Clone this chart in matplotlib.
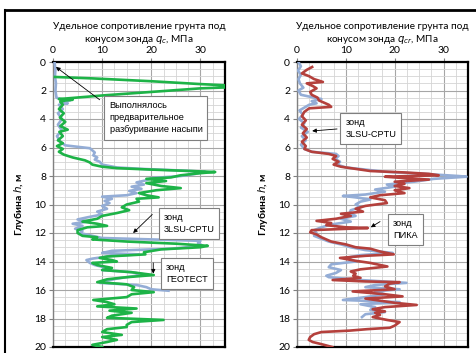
import matplotlib
matplotlib.use("Agg")
import matplotlib.pyplot as plt
from matplotlib.lines import Line2D
import numpy as np

# --- ГЕОТЕСТ (left panel)
geotest_depth = [1.05, 1.15, 1.35, 1.55, 1.72, 1.85, 2.1, 2.35, 2.55, 2.6, 2.65, 2.7, 2.8, 3.0, 3.3, 3.6, 3.9,
                 4.2, 4.5, 4.75, 4.9, 5.2, 5.5, 5.7, 5.9, 6.1, 6.3, 6.5, 6.7, 6.9, 7.05, 7.2, 7.35, 7.45, 7.55,
                 7.65, 7.72, 7.8, 7.95, 8.1, 8.2, 8.35, 8.5, 8.7, 8.85, 9.0, 9.2, 9.35, 9.5, 9.6, 9.8, 10.0,
                 10.2, 10.4, 10.6, 10.8, 11.0, 11.2, 11.35, 11.5, 11.6, 11.8, 12.0, 12.2, 12.3, 12.45, 12.6,
                 12.75, 12.9, 13.0, 13.15, 13.35, 13.5, 13.65, 13.75, 13.9, 14.0, 14.1, 14.25, 14.45, 14.6,
                 14.75, 14.95, 15.1, 15.25, 15.45, 15.6, 15.8, 16.0, 16.15, 16.3, 16.5, 16.7, 16.85, 17.0,
                 17.15, 17.3, 17.45, 17.6, 17.8, 17.95, 18.1, 18.25, 18.45, 18.6, 18.75, 18.95, 19.15, 19.3,
                 19.5, 19.65, 19.85, 20.0]
geotest_qc = [0.4, 8, 20, 30, 40, 30, 20, 10, 3, 1.2, 4, 2.5, 1.5, 2.0, 1.2, 2.2, 1.4,
              2.5, 1.5, 3.0, 1.3, 2.0, 1.0, 2.0, 0.8, 2.0, 1.2, 2.2, 4, 6.5, 7.5, 8, 10, 13, 20,
              28, 33, 30, 26, 24, 19, 23, 19, 22, 26, 21, 17.5, 19, 21.5, 17, 17.5, 15,
              14, 15.5, 13, 10, 9, 6, 9, 11, 7, 5, 5, 6, 9, 8, 15,
              25, 31.5, 30, 22, 18.5, 18.8, 11, 9.5, 12, 13, 8, 9, 12, 10,
              16, 20.5, 15, 11, 9, 15, 16.5, 16, 20.5, 16, 15, 8.2, 11, 12.5,
              9, 17, 11.5, 16, 12, 11, 22.5, 16, 15, 15, 11, 10, 14, 10,
              13, 11, 8, 10]

# --- 3LSU-CPTU (left panel)
cptu_l_depth = [0.0, 0.5, 1.0, 1.5, 2.0, 2.5, 2.6, 2.7, 2.8, 2.9, 3.0, 3.3, 3.6, 4.0, 4.4, 4.8, 5.2, 5.6,
                5.85, 5.95, 6.05, 6.2, 6.35, 6.55, 6.7, 6.85, 7.0, 7.2, 7.4, 7.5, 7.6, 7.7, 7.85, 8.0,
                8.15, 8.3, 8.45, 8.6, 8.75, 8.9, 9.05, 9.2, 9.35, 9.45, 9.6, 9.75, 9.9, 10.1, 10.3,
                10.5, 10.7, 10.9, 11.05, 11.2, 11.35, 11.5, 11.7, 11.85, 12.0, 12.2, 12.35, 12.45,
                12.55, 12.7, 12.9, 13.1, 13.25, 13.4, 13.5, 13.6, 13.8, 13.9, 14.1, 14.25, 14.45,
                14.6, 14.75, 14.9, 15.05, 15.2, 15.35, 15.5, 15.65, 15.8, 15.95, 16.05]
cptu_l_qc = [0.3, 0.5, 0.4, 0.6, 0.5, 0.7, 1.5, 3.5, 1.5, 3.0, 1.2, 2.0, 1.0, 1.8, 1.0, 1.8, 0.8, 1.5,
             2.5, 5, 7.5, 8.0, 8.5, 8.2, 9.0, 8.5, 9.5, 10, 13, 18, 25, 31, 29, 26,
             20, 19, 17, 18.5, 16, 18, 15.5, 17, 15, 10, 12, 10.5, 11.5, 10, 11,
             9, 10, 7, 5, 7, 4, 6, 4.5, 6, 5.5, 8, 10, 20,
             30, 29.5, 30.5, 24, 12, 10, 17.5, 12, 8, 6.8, 7.5, 8.5, 11,
             10, 16, 18.5, 16, 13, 11, 9.5, 17, 19, 20, 23.5]

# --- ПИКА (right panel)
pika_depth = [0.35, 0.55, 0.8, 1.0, 1.2, 1.4, 1.5, 1.7, 1.85, 2.1, 2.3, 2.5, 2.7, 2.85, 3.0, 3.15, 3.25,
              3.5, 3.8, 4.1, 4.4, 4.7, 5.0, 5.3, 5.6, 5.9, 6.1, 6.3, 6.45, 6.6, 6.8, 7.0, 7.2, 7.35,
              7.5, 7.65, 7.75, 7.85, 7.95, 8.05, 8.15, 8.25, 8.4, 8.55, 8.7, 8.85, 9.0, 9.2, 9.35,
              9.5, 9.7, 9.9, 10.1, 10.3, 10.5, 10.65, 10.8, 11.0, 11.15, 11.3, 11.45, 11.6, 11.65,
              11.8, 11.95, 12.1, 12.3, 12.45, 12.6, 12.8, 13.0, 13.1, 13.3, 13.5, 13.6, 13.75,
              13.95, 14.1, 14.35, 14.55, 14.7, 14.85, 15.0, 15.15, 15.3, 15.4, 15.45, 15.55, 15.75,
              15.95, 16.1, 16.3, 16.45, 16.6, 16.75, 16.9, 17.05, 17.2, 17.35, 17.5, 17.6, 17.75,
              17.9, 18.1, 18.25, 18.5, 18.65, 18.75, 18.85, 18.95, 19.1, 19.3, 19.5, 19.65, 19.8, 20.0]
pika_qc = [3.1, 2, 1.0, 2.5, 3.5, 5.3, 2.0, 3.3, 4.0, 2.7, 3.0, 4.2, 4.5, 5.5, 6.5, 7.0, 2.5,
           1.5, 1.0, 1.8, 1.0, 2.0, 1.2, 2.0, 1.0, 1.8, 1.5, 3.0, 6.5, 8, 7.3, 8.5, 7.5, 9,
           12, 15, 22, 27, 29, 18, 22, 27, 20, 22, 20, 23, 20, 22, 17,
           15, 18, 18.4, 14, 12, 13.5, 9, 11, 8, 4, 7, 6, 10, 14.5,
           3, 2.7, 4, 5, 6, 7, 10, 12, 15, 17, 19.8, 14, 8.8,
           12, 15, 18.5, 13, 11, 12, 11.5, 13, 7.3, 14, 21, 19, 18,
           20, 11.4, 18, 21.6, 14, 17, 20, 24.5, 18, 15.5, 18, 16, 17,
           15.5, 18.4, 21, 20, 19, 14.3, 10.8, 5, 3.5, 2.7, 2.4, 3.2, 5, 7.2]

# --- 3LSU-CPTU (right panel)
cptu_r_depth = [0.0, 0.3, 0.6, 0.9, 1.2, 1.5, 1.8, 2.0, 2.3, 2.5, 2.6, 2.75, 2.9, 3.0, 3.2, 3.4, 3.7,
                4.0, 4.3, 4.6, 4.9, 5.2, 5.5, 5.8, 6.1, 6.3, 6.45, 6.6, 6.8, 7.0, 7.2, 7.4, 7.55, 7.7,
                7.85, 8.0, 8.05, 8.2, 8.4, 8.6, 8.75, 8.95, 9.1, 9.3, 9.4, 9.5, 9.65, 9.8, 10.0, 10.2,
                10.4, 10.6, 10.8, 11.0, 11.2, 11.4, 11.6, 11.8, 12.0, 12.2, 12.4, 12.6, 12.8, 13.0,
                13.2, 13.4, 13.55, 13.75, 14.0, 14.2, 14.4, 14.6, 14.8, 15.0, 15.1, 15.3, 15.5, 15.65,
                15.8, 15.95, 16.1, 16.3, 16.5, 16.7, 16.85, 17.0, 17.2, 17.4, 17.55, 17.7, 17.9]
cptu_r_qc = [0.3, 0.8, 0.2, 0.8, 0.3, 0.6, 1.3, 0.3, 0.8, 3.5, 5.0, 3.0, 4.0, 2.5, 1.5, 0.5, 1.2,
             0.4, 1.5, 0.8, 2.2, 1.0, 1.8, 0.8, 1.5, 3, 8, 8.5, 7.8, 8.8, 8.2, 10, 14, 18,
             26, 33, 34.7, 28, 24, 18.4, 20, 16, 18, 14, 9.4, 12, 15, 13, 12, 13,
             11, 10.8, 12, 9, 11, 7, 5, 3.5, 4, 3.5, 5, 6.5, 9, 11,
             14, 19.6, 13, 10, 12, 7, 6.5, 9, 8, 6, 6.5, 13, 22.4, 16,
             14, 21, 16, 18, 14, 9.4, 21, 13, 16, 15, 18, 14, 13.3]

x_ticks = [0, 10, 20, 30]
y_ticks = [0, 2, 4, 6, 8, 10, 12, 14, 16, 18, 20]

GREEN = "#1DB347"
BLUE = "#94ADD6"
RED = "#B4403C"

W, H = 477, 353
fig = plt.figure(figsize=(W / 100, H / 100), dpi=100)

title_font = ["Lato", "DejaVu Sans"]
box_font = ["Liberation Sans Narrow", "Liberation Sans", "DejaVu Sans"]


def make_axes(left_px, right_px, title_sub):
    ax = fig.add_axes([left_px / W, 1 - 347 / H, (right_px - left_px) / W, (347 - 62) / H])
    ax.set_xlim(0, 35)
    ax.set_ylim(20, 0)
    ax.xaxis.tick_top()
    ax.set_xticks(x_ticks)
    ax.set_yticks(y_ticks)
    ax.set_xticks(np.arange(0, 35.01, 2.5), minor=True)
    ax.set_yticks(np.arange(0, 20.01, 0.5), minor=True)
    ax.grid(which="major", color="#a6a6a6", lw=0.8)
    ax.grid(which="minor", color="#d4d4d4", lw=0.6)
    ax.set_axisbelow(True)
    ax.tick_params(which="major", length=3, color="#808080", labelsize=7.5, pad=2)
    ax.tick_params(which="minor", length=0)
    for lab in ax.get_xticklabels() + ax.get_yticklabels():
        lab.set_family(title_font)
    for side in ["top", "right", "bottom"]:
        ax.spines[side].set_color("black")
        ax.spines[side].set_linewidth(1.6)
    ax.spines["left"].set_color("#808080")
    ax.spines["left"].set_linewidth(1.0)
    ax.set_ylabel("Глубина $h$, м", fontsize=7.5, fontweight="bold", family=title_font, labelpad=6)
    ax.set_title("Удельное сопротивление грунта под\nконусом зонда $q_{" + title_sub + "}$, МПа",
                 fontsize=7.2, family=title_font, pad=3, linespacing=1.2)
    return ax


def note(ax, text, box_xy, tip, tail, fs=6.6):
    ax.annotate("", xy=tip, xytext=tail,
                arrowprops=dict(arrowstyle="-|>", color="black", lw=0.6,
                                mutation_scale=6, shrinkA=0, shrinkB=0), zorder=6)
    ax.text(box_xy[0], box_xy[1], text, fontsize=fs, family=box_font, va="top", ha="left",
            linespacing=1.45, zorder=7,
            bbox=dict(boxstyle="square,pad=0.55", fc="white", ec="#7f7f7f", lw=0.8))


LW = 1.9

# Left panel
ax1 = make_axes(53, 225, "c")
ax1.plot(cptu_l_qc, cptu_l_depth, color=BLUE, lw=LW, zorder=3, solid_joinstyle="round")
ax1.plot(geotest_qc, geotest_depth, color=GREEN, lw=LW, zorder=4, solid_joinstyle="round")
note(ax1, "Выполнялось\nпредварительное\nразбуривание насыпи", (11.5, 2.75), (0.6, 0.35), (9.5, 2.65))
note(ax1, "зонд\n3LSU-CPTU", (22.5, 10.6), (16.3, 12.0), (20.2, 10.7))
note(ax1, "зонд\nГЕОТЕСТ", (23.0, 14.1), (20.4, 14.85), (20.4, 14.1))

# Right panel
ax2 = make_axes(297, 468, "cr")
ax2.plot(pika_qc, pika_depth, color=RED, lw=LW, zorder=4, solid_joinstyle="round")
ax2.plot(cptu_r_qc, cptu_r_depth, color=BLUE, lw=LW, zorder=3, solid_joinstyle="round")
note(ax2, "зонд\n3LSU-CPTU", (9.9, 3.95), (3.1, 4.84), (8.2, 4.7))
note(ax2, "зонд\nПИКА", (19.7, 11.0), (15.1, 11.6), (17.0, 11.2))

# Page frame lines
fig.add_artist(Line2D([5 / W, 1], [1 - 10 / H, 1 - 10 / H], color="black", lw=2))
fig.add_artist(Line2D([5 / W, 5 / W], [1 - 10 / H, 0], color="black", lw=1.5))

fig.savefig("out.png", dpi=100)
